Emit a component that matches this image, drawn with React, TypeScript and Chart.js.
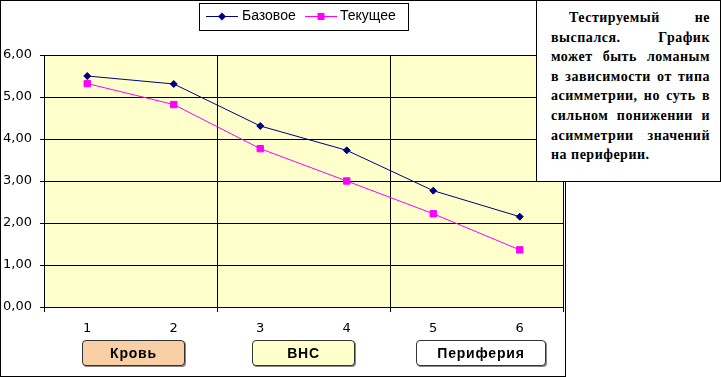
import React, { useEffect, useRef } from 'react';
import { Chart, registerables } from 'chart.js';

Chart.register(...registerables);

const categories = ['1', '2', '3', '4', '5', '6'];
const seriesNames = ['Базовое', 'Текущее'];
const baseValues = [5.5, 5.31, 4.31, 3.73, 2.77, 2.15];
const currentValues = [5.32, 4.82, 3.77, 3.0, 2.22, 1.36];
const yTicks = [0, 1, 2, 3, 4, 5, 6];
const groupLabels = ['Кровь', 'ВНС', 'Периферия'];
const noteLines = [
  'Тестируемый не',
  'выспался. График',
  'может быть ломаным',
  'в зависимости от типа',
  'асимметрии, но суть в',
  'сильном понижении и',
  'асимметрии значений',
  'на периферии.',
];

const NAVY = '#000080';
const MAGENTA = '#FF00FF';
const groupStyles = [
  { left: 82, width: 103, bg: '#F9CFA6' },
  { left: 252, width: 103, bg: '#FFFFCC' },
  { left: 416, width: 130, bg: '#FFFFFF' },
];

const FONT = '"Liberation Sans", Arial, sans-serif';
const TICK_FONT = '"DejaVu Sans", Arial, sans-serif';

const framePlugin = {
  id: 'frame',
  beforeDraw(chart: any) {
    const { ctx, chartArea } = chart;
    ctx.save();
    ctx.fillStyle = '#FFFFFF';
    ctx.fillRect(0, 0, chart.width, chart.height);
    ctx.fillStyle = '#FFFFCC';
    ctx.fillRect(chartArea.left, chartArea.top, chartArea.right - chartArea.left, chartArea.bottom - chartArea.top);
    ctx.strokeStyle = '#000';
    ctx.lineWidth = 1;
    ctx.strokeRect(0.5, 0.5, 565, 376);
    ctx.restore();
  },
  afterDraw(chart: any) {
    const { ctx } = chart;
    const ds = chart.data.datasets;
    ctx.save();
    ctx.fillStyle = '#FFFFFF';
    ctx.fillRect(199.5, 3.5, 209, 27);
    ctx.strokeStyle = '#000';
    ctx.lineWidth = 1;
    ctx.strokeRect(199.5, 3.5, 209, 27);
    const cy = 16.5;
    const items = [
      { x0: 206, x1: 238, tx: 242, color: ds[0].borderColor, style: 'diamond', label: ds[0].label },
      { x0: 305, x1: 337, tx: 340, color: ds[1].borderColor, style: 'square', label: ds[1].label },
    ];
    items.forEach((it) => {
      ctx.strokeStyle = it.color;
      ctx.lineWidth = 1;
      ctx.beginPath();
      ctx.moveTo(it.x0, cy);
      ctx.lineTo(it.x1, cy);
      ctx.stroke();
      const mx = (it.x0 + it.x1) / 2;
      ctx.fillStyle = it.color;
      ctx.beginPath();
      if (it.style === 'diamond') {
        ctx.moveTo(mx, cy - 4);
        ctx.lineTo(mx + 4, cy);
        ctx.lineTo(mx, cy + 4);
        ctx.lineTo(mx - 4, cy);
        ctx.closePath();
      } else {
        ctx.rect(mx - 3.5, cy - 3.5, 7, 7);
      }
      ctx.fill();
      ctx.fillStyle = '#000';
      ctx.font = '14px ' + FONT;
      ctx.textBaseline = 'middle';
      ctx.textAlign = 'left';
      ctx.fillText(it.label, it.tx, cy);
    });
    ctx.restore();
  },
};

export default function App() {
  const canvasRef = useRef<HTMLCanvasElement | null>(null);

  useEffect(() => {
    if (!canvasRef.current) return;
    const chart = new Chart(canvasRef.current, {
      type: 'line',
      data: {
        labels: categories,
        datasets: [
          {
            label: seriesNames[0],
            data: baseValues,
            borderColor: NAVY,
            backgroundColor: NAVY,
            borderWidth: 1,
            pointStyle: 'rectRot',
            pointRadius: 3.5,
            pointBackgroundColor: NAVY,
            pointBorderColor: NAVY,
            pointBorderWidth: 1,
            tension: 0,
          },
          {
            label: seriesNames[1],
            data: currentValues,
            borderColor: MAGENTA,
            backgroundColor: MAGENTA,
            borderWidth: 1,
            pointStyle: 'rect',
            pointRadius: 4.5,
            pointBackgroundColor: MAGENTA,
            pointBorderColor: MAGENTA,
            pointBorderWidth: 1,
            tension: 0,
          },
        ],
      },
      options: {
        responsive: false,
        animation: false,
        devicePixelRatio: 1,
        layout: { padding: { left: 0, top: 55, right: 158, bottom: 0 } },
        plugins: { legend: { display: false }, tooltip: { enabled: false } },
        scales: {
          x: {
            type: 'category',
            offset: true,
            afterFit: (scale: any) => {
              scale.height = 70;
            },
            grid: {
              offset: true,
              color: (ctx: any) => (ctx.index === undefined || ctx.index % 2 === 0 ? '#000' : 'rgba(0,0,0,0)'),
              lineWidth: 1,
              tickLength: 5,
              drawTicks: true,
            },
            border: { display: true, color: '#000', width: 1 },
            ticks: {
              autoSkip: false,
              maxRotation: 0,
              color: '#000',
              padding: 9,
              font: { family: TICK_FONT, size: 13 },
            },
          },
          y: {
            min: yTicks[0],
            max: yTicks[yTicks.length - 1],
            afterFit: (scale: any) => {
              scale.width = 44;
            },
            afterBuildTicks: (scale: any) => {
              scale.ticks = yTicks.map((v) => ({ value: v }));
            },
            grid: { color: '#000', lineWidth: 1, tickLength: 4 },
            border: { display: true, color: '#000', width: 1 },
            ticks: {
              color: '#000',
              padding: 8,
              font: { family: TICK_FONT, size: 13 },
              callback: (v: any) => Number(v).toFixed(2).replace('.', ','),
            },
          },
        },
      },
      plugins: [framePlugin],
    } as any);
    return () => chart.destroy();
  }, []);

  return (
    <div style={{ position: 'absolute', left: 0, top: 0, width: 721, height: 377, overflow: 'hidden', background: '#fff' }}>
      <canvas ref={canvasRef} width={721} height={377} style={{ position: 'absolute', left: 0, top: 0, width: 721, height: 377 }} />
      {groupLabels.map((g, i) => (
        <div
          key={g}
          style={{
            position: 'absolute',
            left: groupStyles[i].left,
            top: 340,
            width: groupStyles[i].width,
            height: 26,
            boxSizing: 'border-box',
            border: '1px solid #333',
            borderRadius: 4,
            boxShadow: '1px 1px 0 #888',
            background: groupStyles[i].bg,
            fontFamily: FONT,
            fontWeight: 'bold',
            fontSize: 14,
            letterSpacing: 0.8,
            lineHeight: '24px',
            textAlign: 'center',
            color: '#000',
          }}
        >
          {g}
        </div>
      ))}
      <div
        style={{
          position: 'absolute',
          left: 536,
          top: 0,
          width: 185,
          height: 182,
          boxSizing: 'border-box',
          border: '1px solid #000',
          background: '#fff',
          padding: '7px 10px 0 14px',
          fontFamily: '"Liberation Serif", "Times New Roman", serif',
          fontWeight: 'bold',
          fontSize: 14,
          letterSpacing: 0.5,
          lineHeight: '19.6px',
          color: '#000',
        }}
      >
        {noteLines.map((line, i) => (
          <div
            key={i}
            style={{
              textAlign: i === noteLines.length - 1 ? 'left' : 'justify',
              textAlignLast: i === noteLines.length - 1 ? 'left' : 'justify',
              textIndent: i === 0 ? 18 : 0,
              whiteSpace: 'nowrap',
            }}
          >
            {line}
          </div>
        ))}
      </div>
    </div>
  );
}
